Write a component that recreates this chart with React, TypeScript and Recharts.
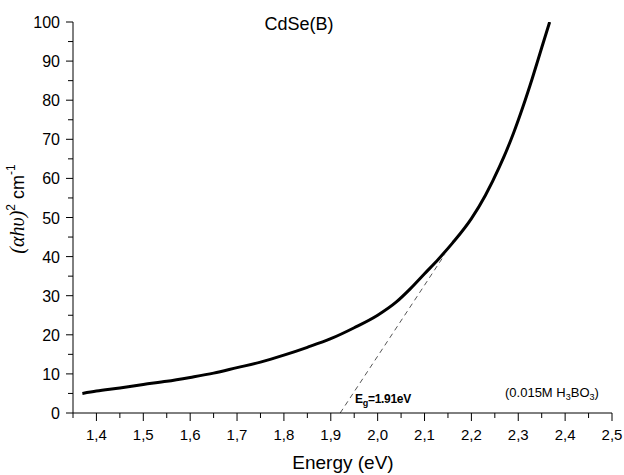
import React from 'react'
import { LineChart, Line, XAxis, YAxis } from 'recharts'

// photon energy (eV) and (alpha h nu)^2
const energy = [1.37, 1.4, 1.45, 1.5, 1.55, 1.6, 1.65, 1.7, 1.75, 1.8, 1.85, 1.9, 1.95, 2.0, 2.04, 2.07, 2.1, 2.13, 2.16, 2.2, 2.23, 2.26, 2.29, 2.31, 2.33, 2.35, 2.367]
const absorb = [5.0, 5.6, 6.4, 7.3, 8.1, 9.1, 10.2, 11.6, 13.0, 14.8, 16.8, 19.0, 21.8, 25.0, 28.4, 31.8, 35.6, 39.4, 43.5, 49.7, 55.7, 63.0, 71.6, 78.3, 85.6, 93.4, 100]

// linear extrapolation to the band gap
const tangentEnergy = [1.92, 2.143]
const tangentValue = [0, 40.5]

const xMajor = [1.4, 1.5, 1.6, 1.7, 1.8, 1.9, 2.0, 2.1, 2.2, 2.3, 2.4, 2.5]
const xMinor = [1.35, 1.45, 1.55, 1.65, 1.75, 1.85, 1.95, 2.05, 2.15, 2.25, 2.35, 2.45]
const yMajor = [0, 10, 20, 30, 40, 50, 60, 70, 80, 90, 100]
const yMinor = [5, 15, 25, 35, 45, 55, 65, 75, 85, 95]

const curve = energy.map((e, i) => ({ e, v: absorb[i] }))
const tangent = tangentEnergy.map((e, i) => ({ e, v: tangentValue[i] }))
const xTicks = [...xMajor, ...xMinor].sort((a, b) => a - b)
const yTicks = [...yMajor, ...yMinor].sort((a, b) => a - b)

const FONT = 'Arial, "Liberation Sans", sans-serif'

const isMajorX = (v: number) => Math.round(v * 100) % 10 === 0
const isMajorY = (v: number) => Math.round(v) % 10 === 0

function XTick({ x, y, payload }: any) {
  const major = isMajorX(payload.value)
  return (
    <g>
      <line x1={x} x2={x} y1={y} y2={y + (major ? 8 : 5)} stroke="#000" strokeWidth={1} />
      {major && (
        <text x={x} y={y + 27} textAnchor="middle" fontSize={15} fontFamily={FONT} fill="#000">
          {payload.value.toFixed(1).replace('.', ',')}
        </text>
      )}
    </g>
  )
}

function YTick({ x, y, payload }: any) {
  const major = isMajorY(payload.value)
  return (
    <g>
      <line x1={x} x2={x - (major ? 7 : 5)} y1={y} y2={y} stroke="#000" strokeWidth={1} />
      {major && (
        <text x={x - 13} y={y + 6} textAnchor="end" fontSize={16} fontFamily={FONT} fill="#000">
          {payload.value}
        </text>
      )}
    </g>
  )
}

export default function App() {
  return (
    <div style={{ position: 'absolute', left: 0, top: 0, width: 624, height: 475, background: '#fff' }}>
      <LineChart width={624} height={475} margin={{ top: 22, right: 12, bottom: 0, left: 0 }}>
        <XAxis
          dataKey="e"
          type="number"
          domain={[1.35, 2.5]}
          ticks={xTicks}
          interval={0}
          height={62}
          tickSize={0}
          tickMargin={0}
          tickLine={false}
          tick={<XTick />}
          axisLine={{ stroke: '#000', strokeWidth: 1 }}
          allowDataOverflow
        />
        <YAxis
          type="number"
          domain={[0, 100]}
          ticks={yTicks}
          interval={0}
          width={73}
          tickSize={0}
          tickMargin={0}
          tickLine={false}
          tick={<YTick />}
          axisLine={{ stroke: '#000', strokeWidth: 1 }}
          allowDataOverflow
        />
        <Line
          data={tangent}
          dataKey="v"
          type="linear"
          stroke="#555"
          strokeWidth={1}
          strokeDasharray="5 4"
          dot={false}
          activeDot={false}
          isAnimationActive={false}
        />
        <Line
          data={curve}
          dataKey="v"
          type="monotone"
          stroke="#000"
          strokeWidth={3}
          dot={false}
          activeDot={false}
          isAnimationActive={false}
        />
      </LineChart>

      <svg width={624} height={475} style={{ position: 'absolute', left: 0, top: 0, pointerEvents: 'none' }}>
        <text x={299} y={30} textAnchor="middle" fontSize={18} fontFamily={FONT} fill="#000">CdSe(B)</text>
        <text x={343} y={469} textAnchor="middle" fontSize={19} fontFamily={FONT} fill="#000">Energy (eV)</text>
        <text transform="translate(24,209) rotate(-90)" textAnchor="middle" fill="#000">
          <tspan fontFamily='"Liberation Serif", "Times New Roman", serif' fontStyle="italic" fontSize={20}>(αhυ)</tspan>
          <tspan fontFamily={FONT} fontSize={12} dy={-9}>2</tspan>
          <tspan fontFamily={FONT} fontSize={18} dy={9}> cm</tspan>
          <tspan fontFamily={FONT} fontSize={12} dy={-9}>-1</tspan>
        </text>
        <text x={355} y={403} fontSize={12} fontWeight="bold" fontFamily={FONT} fill="#000" letterSpacing={-0.3}>
          <tspan>E</tspan>
          <tspan fontSize={9} dy={3}>g</tspan>
          <tspan dy={-3}>=1.91eV</tspan>
        </text>
        <text x={505} y={397} fontSize={13} fontFamily={FONT} fill="#000">
          <tspan>(0.015M H</tspan>
          <tspan fontSize={9} dy={3}>3</tspan>
          <tspan dy={-3}>BO</tspan>
          <tspan fontSize={9} dy={3}>3</tspan>
          <tspan dy={-3}>)</tspan>
        </text>
      </svg>
    </div>
  )
}
